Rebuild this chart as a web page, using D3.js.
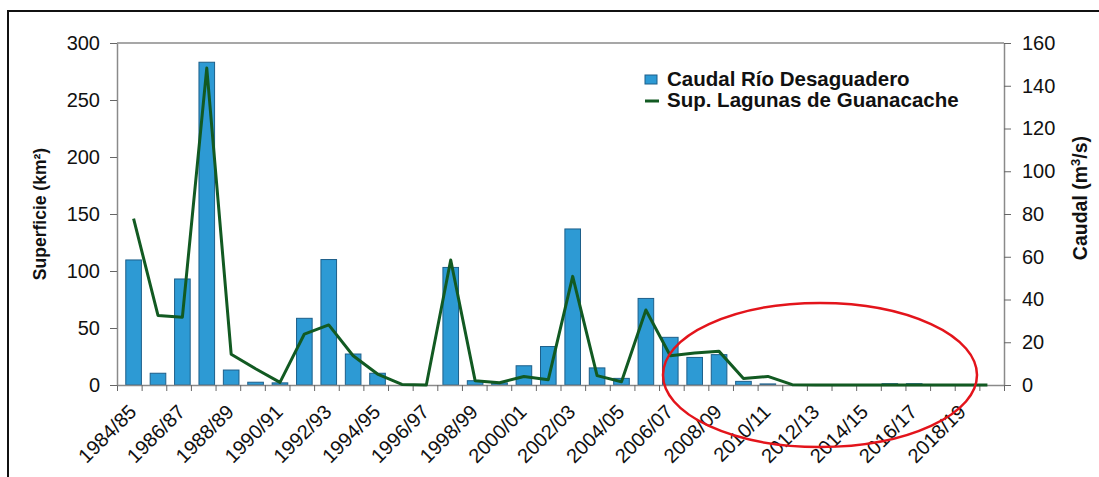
<!DOCTYPE html>
<html>
<head>
<meta charset="utf-8">
<script src="https://cdn.jsdelivr.net/npm/d3@7"></script>
<style>
  html, body { margin: 0; padding: 0; background: #fff; }
  svg { display: block; font-family: "Liberation Sans", Arial, sans-serif; }
</style>
</head>
<body>
<div id="chart"></div>
<script>
// hydrological years 1984/85 .. 2019/20
const years = d3.range(1984, 2020).map(y => y + "/" + String((y + 1) % 100).padStart(2, "0"));

// Caudal Río Desaguadero (m3/s) - bars, right axis
const caudal = [58.5, 5.5, 49.6, 151, 7, 1.3, 1, 31.2, 58.7, 14.5, 5.5, 0, 0, 55, 2, 1,
  9, 18, 73, 8, 3.1, 40.5, 22.3, 12.9, 14.2, 1.7, 0.5, 0, 0, 0, 0, 0.6, 0.6, 0, 0, 0];

// Sup. Lagunas de Guanacache (km2) - line, left axis
const superficie = [146, 61, 59.5, 278, 27, 14.3, 2.3, 44.7, 52.7, 25.7, 9.6, 0.5, 0, 109.7, 3.8, 2,
  7.5, 4.7, 95.3, 8.2, 2.9, 65.8, 25.7, 28, 29.5, 5.8, 7.5, 0.3, 0, 0, 0, 0, 0, 0, 0, 0];

const leftTicks = [0, 50, 100, 150, 200, 250, 300];
const rightTicks = [0, 20, 40, 60, 80, 100, 120, 140, 160];

function renderChart(chartRef, d3, width = 1099, height = 477) {
  d3.select(chartRef).selectAll("*").remove();

  const margin = { top: 43, right: 95, bottom: 92, left: 117 };
  const x0 = margin.left, x1 = width - margin.right;
  const y0 = height - margin.bottom, y1 = margin.top;

  const svg = d3.select(chartRef)
    .append("svg")
    .attr("width", width)
    .attr("height", height)
    .style("background", "#fff");

  // outer frame (cropped: only top and left visible)
  svg.append("path")
    .attr("d", `M8,${height} L8,11 L${width},11`)
    .attr("fill", "none")
    .attr("stroke", "#111")
    .attr("stroke-width", 2);

  const x = d3.scaleBand().domain(years).range([x0, x1]).padding(0.36);
  const xb = d3.scaleLinear().domain([0, years.length]).range([x0, x1]);
  const yL = d3.scaleLinear().domain([0, 300]).range([y0, y1]);
  const yR = d3.scaleLinear().domain([0, 160]).range([y0, y1]);

  // top border of plot area
  svg.append("line")
    .attr("x1", x0).attr("x2", x1)
    .attr("y1", y1).attr("y2", y1)
    .attr("stroke", "#8a8a8a").attr("stroke-width", 1.5);

  // bars
  svg.append("g")
    .selectAll("rect")
    .data(caudal)
    .join("rect")
    .attr("x", (d, i) => x(years[i]))
    .attr("width", x.bandwidth())
    .attr("y", d => yR(d))
    .attr("height", d => y0 - yR(d))
    .attr("fill", "#2d9ad4")
    .attr("stroke", "#1d5f8a")
    .attr("stroke-width", 1);

  // x axis (ticks at category boundaries)
  const gx = svg.append("g")
    .attr("transform", `translate(0,${y0})`)
    .call(d3.axisBottom(xb).tickValues(d3.range(years.length + 1)).tickFormat("").tickSize(6).tickSizeOuter(0));
  gx.select(".domain").attr("stroke", "#8a8a8a").attr("stroke-width", 1.5);
  gx.selectAll(".tick line").attr("stroke", "#666");

  svg.append("g")
    .selectAll("text")
    .data(years.filter((d, i) => i % 2 === 0))
    .join("text")
    .attr("transform", d => `translate(${x(d) + x.bandwidth() / 2 - 6},${y0 + 18}) rotate(-45)`)
    .attr("text-anchor", "end")
    .attr("dy", "0.71em")
    .attr("font-size", 20)
    .attr("fill", "#111")
    .text(d => d);

  // left axis
  const gl = svg.append("g")
    .attr("transform", `translate(${x0},0)`)
    .call(d3.axisLeft(yL).tickValues(leftTicks).tickSize(7).tickSizeOuter(0).tickPadding(10));
  gl.select(".domain").attr("stroke", "#8a8a8a").attr("stroke-width", 1.5);
  gl.selectAll(".tick line").attr("stroke", "#666");
  gl.selectAll(".tick text").attr("font-size", 20).attr("fill", "#111").attr("font-family", "Liberation Sans, Arial, sans-serif");

  // right axis
  const gr = svg.append("g")
    .attr("transform", `translate(${x1},0)`)
    .call(d3.axisRight(yR).tickValues(rightTicks).tickSize(7).tickSizeOuter(0).tickPadding(11));
  gr.select(".domain").attr("stroke", "#8a8a8a").attr("stroke-width", 1.5);
  gr.selectAll(".tick line").attr("stroke", "#666");
  gr.selectAll(".tick text").attr("font-size", 20).attr("fill", "#111").attr("font-family", "Liberation Sans, Arial, sans-serif");

  // axis titles
  svg.append("text")
    .attr("transform", `translate(46,${(y0 + y1) / 2}) rotate(-90)`)
    .attr("text-anchor", "middle")
    .attr("font-size", 17.5)
    .attr("font-weight", "bold")
    .attr("fill", "#111")
    .text("Superficie (km²)");

  const rt = svg.append("text")
    .attr("transform", "translate(1087,198) rotate(-90)")
    .attr("text-anchor", "middle")
    .attr("font-size", 19.5)
    .attr("font-weight", "bold")
    .attr("fill", "#111");
  rt.append("tspan").text("Caudal (m");
  rt.append("tspan").attr("font-size", 13).attr("dy", -7).text("3");
  rt.append("tspan").attr("dy", 7).text("/s)");

  // line
  const line = d3.line()
    .x((d, i) => x(years[i]) + x.bandwidth() / 2)
    .y(d => yL(d));

  svg.append("path")
    .datum(superficie)
    .attr("d", line)
    .attr("fill", "none")
    .attr("stroke", "#125a22")
    .attr("stroke-width", 3)
    .attr("stroke-linejoin", "round");

  // legend
  const lg = svg.append("g").attr("transform", "translate(645,0)");
  lg.append("rect")
    .attr("x", 0).attr("y", 75).attr("width", 12).attr("height", 9)
    .attr("fill", "#2d9ad4").attr("stroke", "#1d5f8a");
  lg.append("line")
    .attr("x1", 0).attr("x2", 14).attr("y1", 101).attr("y2", 101)
    .attr("stroke", "#125a22").attr("stroke-width", 3);
  lg.append("text")
    .attr("x", 22).attr("y", 86)
    .attr("font-size", 20.5).attr("font-weight", "bold").attr("fill", "#111")
    .text("Caudal Río Desaguadero");
  lg.append("text")
    .attr("x", 22).attr("y", 107)
    .attr("font-size", 20.5).attr("font-weight", "bold").attr("fill", "#111")
    .text("Sup. Lagunas de Guanacache");

  // red highlight ellipse
  svg.append("ellipse")
    .attr("cx", 820).attr("cy", 375)
    .attr("rx", 157).attr("ry", 72)
    .attr("fill", "none")
    .attr("stroke", "#e3141b")
    .attr("stroke-width", 2.5);
}

renderChart(document.getElementById("chart"), d3);
</script>
</body>
</html>
